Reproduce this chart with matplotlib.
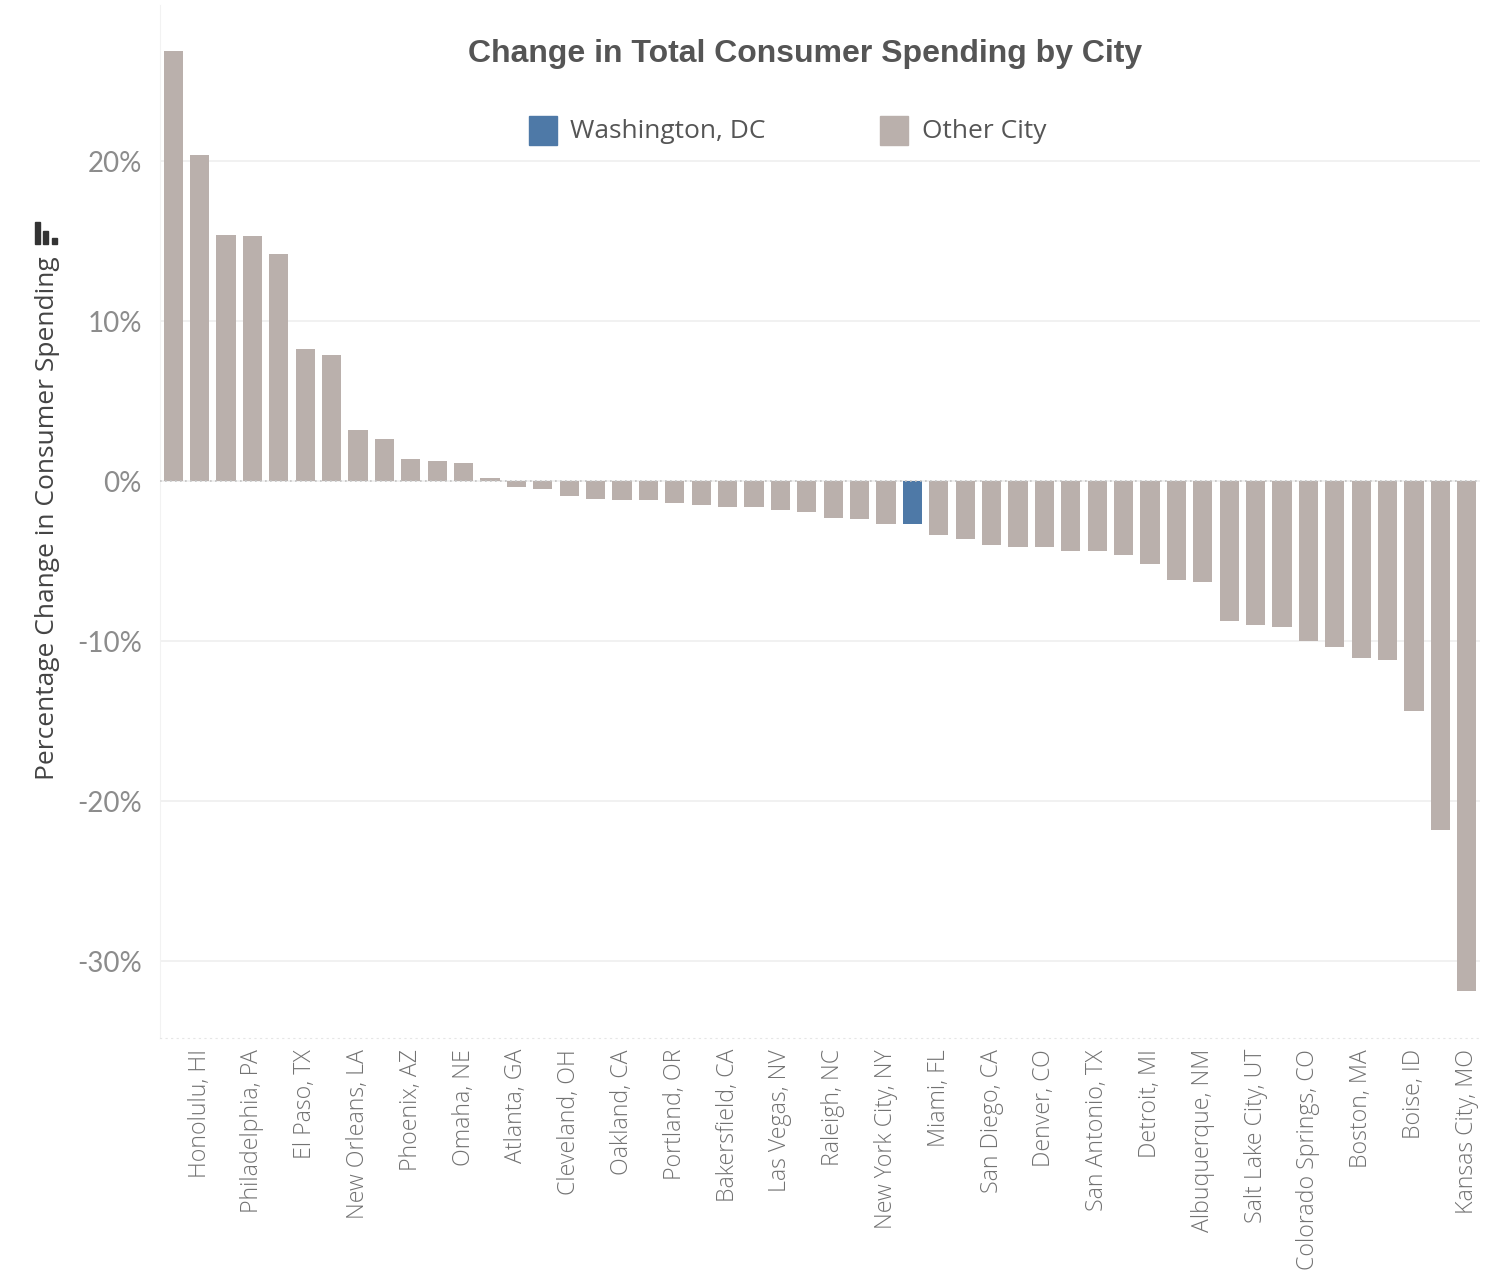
import matplotlib
matplotlib.use("Agg")
import matplotlib.pyplot as plt
from matplotlib.patches import Rectangle

cities = [
    "Tucson, AZ", "Honolulu, HI", "Fresno, CA", "Philadelphia, PA", "Jacksonville, FL",
    "El Paso, TX", "Houston, TX", "New Orleans, LA", "Memphis, TN", "Phoenix, AZ",
    "Dallas, TX", "Omaha, NE", "Tulsa, OK", "Atlanta, GA", "Columbus, OH",
    "Cleveland, OH", "Baltimore, MD", "Oakland, CA", "Seattle, WA", "Portland, OR",
    "Austin, TX", "Bakersfield, CA", "Chicago, IL", "Las Vegas, NV", "Indianapolis, IN",
    "Raleigh, NC", "Louisville, KY", "New York City, NY", "Washington, DC", "Miami, FL",
    "Charlotte, NC", "San Diego, CA", "Milwaukee, WI", "Denver, CO", "Los Angeles, CA",
    "San Antonio, TX", "Fort Worth, TX", "Detroit, MI", "San Jose, CA", "Albuquerque, NM",
    "Sacramento, CA", "Salt Lake City, UT", "Wichita, KS", "Colorado Springs, CO", "Nashville, TN",
    "Boston, MA", "Mesa, AZ", "Boise, ID", "Minneapolis, MN", "Kansas City, MO",
]
pct_change = [
    26.9, 20.4, 15.4, 15.3, 14.2,
    8.25, 7.9, 3.2, 2.6, 1.4,
    1.25, 1.1, 0.2, -0.4, -0.5,
    -0.95, -1.1, -1.2, -1.2, -1.4,
    -1.5, -1.6, -1.6, -1.8, -1.95,
    -2.3, -2.4, -2.7, -2.7, -3.4,
    -3.6, -4.0, -4.1, -4.1, -4.4,
    -4.4, -4.6, -5.2, -6.2, -6.3,
    -8.75, -9.0, -9.1, -10.0, -10.4,
    -11.05, -11.2, -14.4, -21.8, -31.9,
]
highlight_city = "Washington, DC"
legend_labels = ["Washington, DC", "Other City"]
y_ticks = [-30, -20, -10, 0, 10, 20]

BLUE = "#4e79a7"
GRAY = "#bab0ac"

W, H = 1487, 1280
fig = plt.figure(figsize=(W / 100, H / 100), dpi=100)
ax = fig.add_axes([160 / W, 1 - 1038 / H, 1320 / W, (1038 - 5) / H])

colors = [BLUE if c == highlight_city else GRAY for c in cities]
x = list(range(len(cities)))
ax.bar(x, pct_change, width=0.72, color=colors, zorder=3)

ax.set_xlim(-0.5, len(cities) - 0.5)
ax.set_ylim((481 - 1038) / 16, (481 - 5) / 16)

for s in ax.spines.values():
    s.set_visible(False)
ax.spines["left"].set_visible(True)
ax.spines["left"].set_color("#f2f2f2")
ax.spines["bottom"].set_visible(True)
ax.spines["bottom"].set_color("#e6e6e6")
ax.spines["bottom"].set_linestyle((0, (1, 4)))

ax.set_yticks(y_ticks)
ax.set_yticklabels([f"{t}%" for t in y_ticks], fontsize=20, color="#8c8c8c", family="Lato")
ax.yaxis.grid(True, color="#efefef", linewidth=1.2, zorder=0)
ax.axhline(0, color="#c4c4c4", linewidth=1.2, linestyle=(0, (1, 2)), zorder=4)
ax.tick_params(axis="y", length=0, pad=13)

shown = list(range(1, len(cities), 2))
ax.set_xticks(shown)
ax.set_xticklabels([cities[i] for i in shown], rotation=90, fontsize=16.7,
                   color="#727272", family="Open Sans", fontweight="light",
                   va="top", ha="center")
ax.tick_params(axis="x", length=0, pad=8)

ax.set_ylabel("Percentage Change in Consumer Spending", fontsize=19, color="#444444",
              family="Open Sans")
ax.yaxis.set_label_coords((60 - 160) / 1320, (1038 - 518) / 1033)

fig.text(805 / W, 1 - 54 / H, "Change in Total Consumer Spending by City", ha="center",
         va="center", fontsize=23, fontweight="bold", color="#555555", family="Liberation Sans")

# legend drawn as figure patches + texts
legend_items = [(529, 570, BLUE), (880, 922, GRAY)]
for (sx, tx, col), lab in zip(legend_items, legend_labels):
    fig.patches.append(Rectangle((sx / W, 1 - 145 / H), 28 / W, 29 / H,
                                 transform=fig.transFigure, color=col))
    fig.text(tx / W, 1 - 132 / H, lab, ha="left", va="center", fontsize=19,
             color="#555555", family="Open Sans")

# sort icon next to axis title
for (x0, h) in [(35, 22), (43, 13), (52, 6)]:
    fig.patches.append(Rectangle((x0 / W, 1 - 244 / H), 5 / W, h / H,
                                 transform=fig.transFigure, color="#333333"))

fig.savefig("out.png", dpi=100)
